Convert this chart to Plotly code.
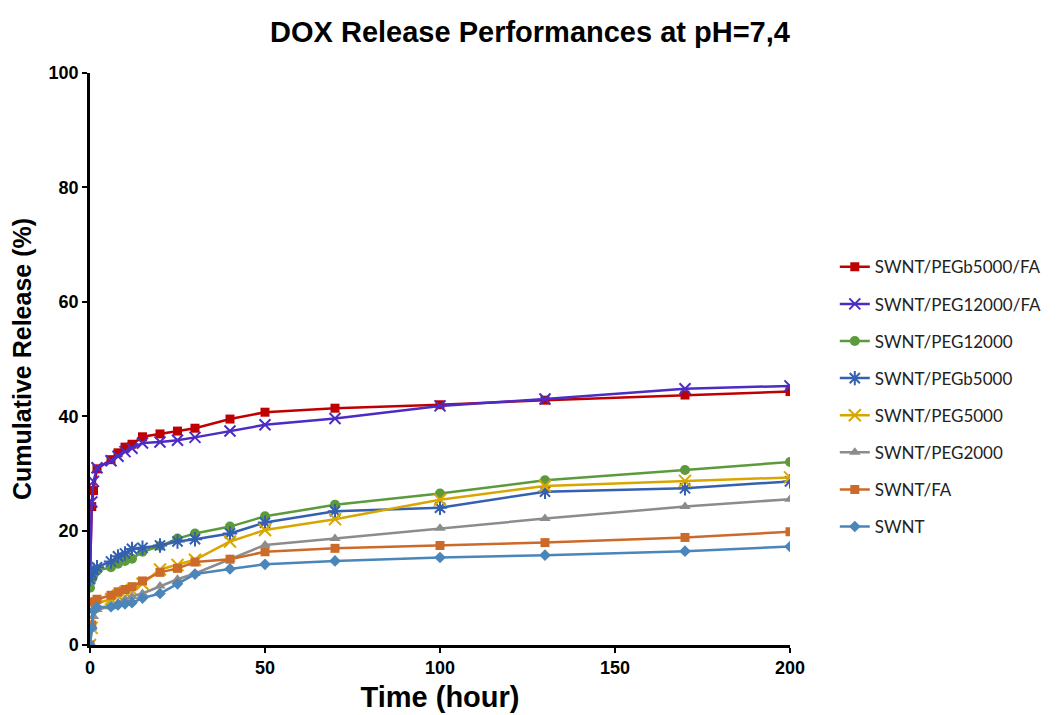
import plotly.graph_objects as go

# Sampling times (hours)
time_h = [0, 0.5, 1, 2, 6, 8, 10, 12, 15, 20, 25, 30, 40, 50, 70, 100, 130, 170, 200]

# Cumulative DOX release (%) per formulation
swnt_pegb5000_fa = [12.0, 24.2, 27.0, 30.8, 32.4, 33.6, 34.6, 35.1, 36.4, 36.9, 37.4, 37.9, 39.5, 40.7, 41.4, 42.0, 42.8, 43.7, 44.3]
swnt_peg12000_fa = [12.0, 25.0, 28.6, 31.0, 32.2, 33.0, 33.8, 34.4, 35.3, 35.5, 35.8, 36.3, 37.4, 38.5, 39.6, 41.8, 43.0, 44.8, 45.3]
swnt_peg12000 = [10.0, 11.5, 12.3, 13.0, 13.6, 14.2, 14.7, 15.1, 16.3, 17.3, 18.6, 19.5, 20.7, 22.5, 24.5, 26.5, 28.8, 30.6, 32.0]
swnt_pegb5000 = [11.5, 12.5, 13.1, 13.6, 14.6, 15.5, 16.0, 16.8, 17.0, 17.4, 18.1, 18.5, 19.5, 21.4, 23.4, 24.0, 26.8, 27.4, 28.6]
swnt_peg5000 = [0.0, 3.0, 6.8, 7.3, 8.0, 8.6, 9.2, 9.6, 10.7, 13.2, 14.0, 14.9, 18.1, 20.1, 22.0, 25.4, 27.8, 28.7, 29.3]
swnt_peg2000 = [0.0, 3.0, 5.0, 6.2, 6.7, 7.4, 8.0, 8.5, 9.0, 10.3, 11.5, 12.5, 15.0, 17.5, 18.6, 20.4, 22.1, 24.2, 25.5]
swnt_fa = [0.0, 3.5, 7.5, 8.0, 8.7, 9.3, 9.7, 10.2, 11.2, 12.7, 13.4, 14.5, 15.0, 16.3, 16.9, 17.4, 17.9, 18.8, 19.8]
swnt = [0.0, 3.0, 6.0, 6.6, 6.7, 7.0, 7.2, 7.4, 8.2, 9.0, 10.7, 12.4, 13.3, 14.1, 14.7, 15.3, 15.7, 16.4, 17.2]

series = [
    ("SWNT/PEGb5000/FA", swnt_pegb5000_fa, "#C00000", "square", 9),
    ("SWNT/PEG12000/FA", swnt_peg12000_fa, "#4B2CC4", "x-thin-open", 11),
    ("SWNT/PEG12000", swnt_peg12000, "#5C9A3C", "circle", 10),
    ("SWNT/PEGb5000", swnt_pegb5000, "#3560B0", "asterisk-open", 12),
    ("SWNT/PEG5000", swnt_peg5000, "#D9A600", "x-thin-open", 12),
    ("SWNT/PEG2000", swnt_peg2000, "#8C8C8C", "triangle-up", 10),
    ("SWNT/FA", swnt_fa, "#CC6A2A", "square", 9),
    ("SWNT", swnt, "#4A86BA", "diamond", 9),
]

AXIS_FONT = "Liberation Sans, Arial"

fig = go.Figure()
for i, (name, vals, color, symbol, size) in enumerate(series):
    open_marker = symbol.endswith("open")
    fig.add_trace(go.Scatter(
        x=time_h, y=vals, name=name, mode="lines+markers",
        legendgroup=f"g{i}",
        line=dict(color=color, width=2.5),
        marker=dict(symbol=symbol, size=size, color=color,
                    line=dict(color=color, width=2 if open_marker else 0)),
    ))

fig.update_layout(
    width=1060, height=715,
    paper_bgcolor="white", plot_bgcolor="white",
    margin=dict(l=90, r=270, t=73, b=70, autoexpand=False),
    title=dict(text="<b>DOX Release Performances at pH=7,4</b>",
               x=0.5, xanchor="center", y=0.955, yanchor="middle",
               font=dict(family=AXIS_FONT, size=29, color="black")),
    legend=dict(x=1.064, xanchor="left", y=0.434, yanchor="middle",
                traceorder="grouped", tracegroupgap=12,
                font=dict(family="Lato", size=17, color="#222"),
                bgcolor="rgba(0,0,0,0)"),
    showlegend=True,
)

fig.update_xaxes(
    range=[0, 200], tickvals=[0, 50, 100, 150, 200],
    showline=True, linecolor="black", linewidth=2.5,
    ticks="outside", ticklen=5, tickwidth=2, tickcolor="black",
    showgrid=False, zeroline=False, automargin=False,
    tickfont=dict(family=AXIS_FONT, size=18, color="black", weight="bold"),
    title=dict(text="<b>Time (hour)</b>", standoff=10,
               font=dict(family=AXIS_FONT, size=29, color="black")),
)
fig.update_yaxes(
    range=[0, 100], tickvals=[0, 20, 40, 60, 80, 100],
    showline=True, linecolor="black", linewidth=2.5,
    ticks="outside", ticklen=5, tickwidth=2, tickcolor="black",
    showgrid=False, zeroline=False, automargin=False,
    tickfont=dict(family=AXIS_FONT, size=18, color="black", weight="bold"),
    title=dict(text="<b>Cumulative Release (%)</b>", standoff=10,
               font=dict(family=AXIS_FONT, size=25, color="black")),
)

fig.write_html("out.html")
